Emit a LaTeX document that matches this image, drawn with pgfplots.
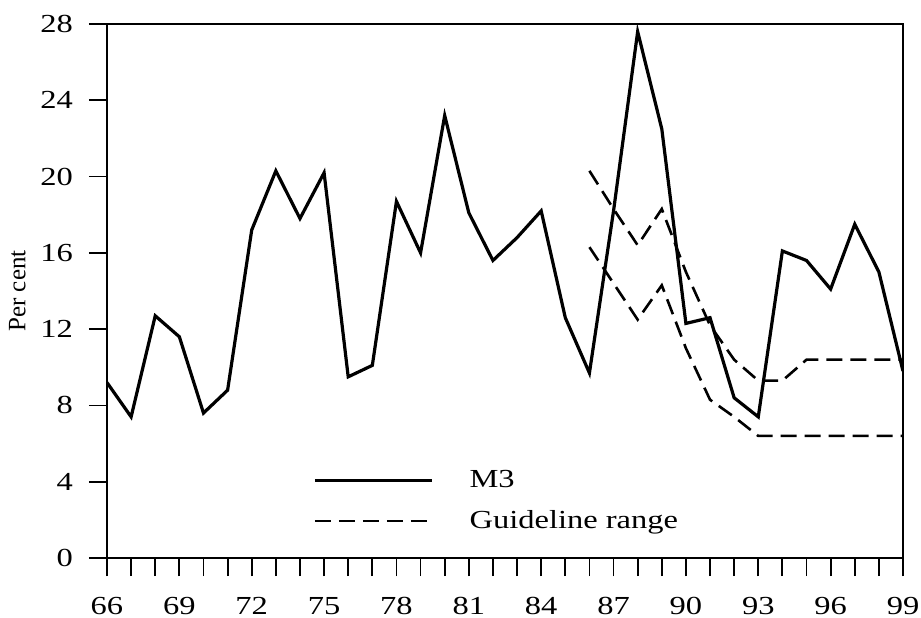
\documentclass[border=0pt]{standalone}
\usepackage{pgfplots}
\pgfplotsset{compat=1.18}
\usepackage{fontspec}
\setmainfont{Liberation Serif}
\newfontfamily\wide{Liberation Serif}[FakeStretch=1.25]
\begin{document}
\begin{tikzpicture}
\useasboundingbox (-53.5pt,-29.5pt) rectangle (407pt,279pt);
\begin{axis}[
  scale only axis, width=398pt, height=267pt,
  at={(0,0)}, anchor=south west,
  xmin=66, xmax=99, ymin=0, ymax=28,
  xtick={66,69,...,99}, minor xtick={66,...,99},
  ytick={0,4,...,28},
  tick align=outside, tick pos=left,
  every tick/.style={black, line width=0.9pt},
  every minor tick/.style={black, line width=0.9pt},
  major tick length=9pt, minor tick length=9pt,
  axis line style={line width=1pt},
  /pgf/number format/assume math mode=true,
  ticklabel style={font=\wide\fontsize{13}{15}\selectfont},
  xticklabel style={yshift=-7pt},
  yticklabel style={xshift=-4.5pt},
  ylabel={Per cent},
  ylabel style={font=\fontsize{12.5}{14}\selectfont, yshift=0.5pt},
  legend style={draw=none, fill=none, at={(axis cs:74.54,3.0)}, anchor=west,
    font=\wide\fontsize{13}{15}\selectfont, row sep=6pt, inner sep=0pt},
  legend cell align=left,
  legend image code/.code={\draw[#1] (0pt,0pt) -- (58.5pt,0pt);},
]
\addplot[black, line width=1.6pt] coordinates {
(66,9.2) (67,7.4) (68,12.7) (69,11.6) (70,7.6) (71,8.8) (72,17.2) (73,20.3)
(74,17.8) (75,20.2) (76,9.5) (77,10.1) (78,18.7) (79,16.0) (80,23.2) (81,18.1)
(82,15.6) (83,16.8) (84,18.2) (85,12.6) (86,9.7) (87,18.2) (88,27.6) (89,22.5)
(90,12.3) (91,12.6) (92,8.4) (93,7.4) (94,16.1) (95,15.6) (96,14.1) (97,17.5)
(98,15.0) (99,9.8)};
\addlegendentry{\hspace{16pt}M3}
\addplot[black, line width=1.3pt, dash pattern=on 8pt off 4pt] coordinates {
(86,16.3) (87,14.4) (88,12.5) (89,14.3) (90,11.0) (91,8.3) (92,7.4) (93,6.4)
(94,6.4) (95,6.4) (96,6.4) (97,6.4) (98,6.4) (99,6.4)};
\addlegendentry{\hspace{16pt}Guideline range}
\addplot[black, line width=1.3pt, dash pattern=on 8pt off 4pt, forget plot] coordinates {
(86,20.3) (87,18.3) (88,16.4) (89,18.3) (90,15.0) (91,12.2) (92,10.4) (93,9.3)
(94,9.3) (95,10.4) (96,10.4) (97,10.4) (98,10.4) (99,10.4)};
\end{axis}
\end{tikzpicture}
\end{document}
